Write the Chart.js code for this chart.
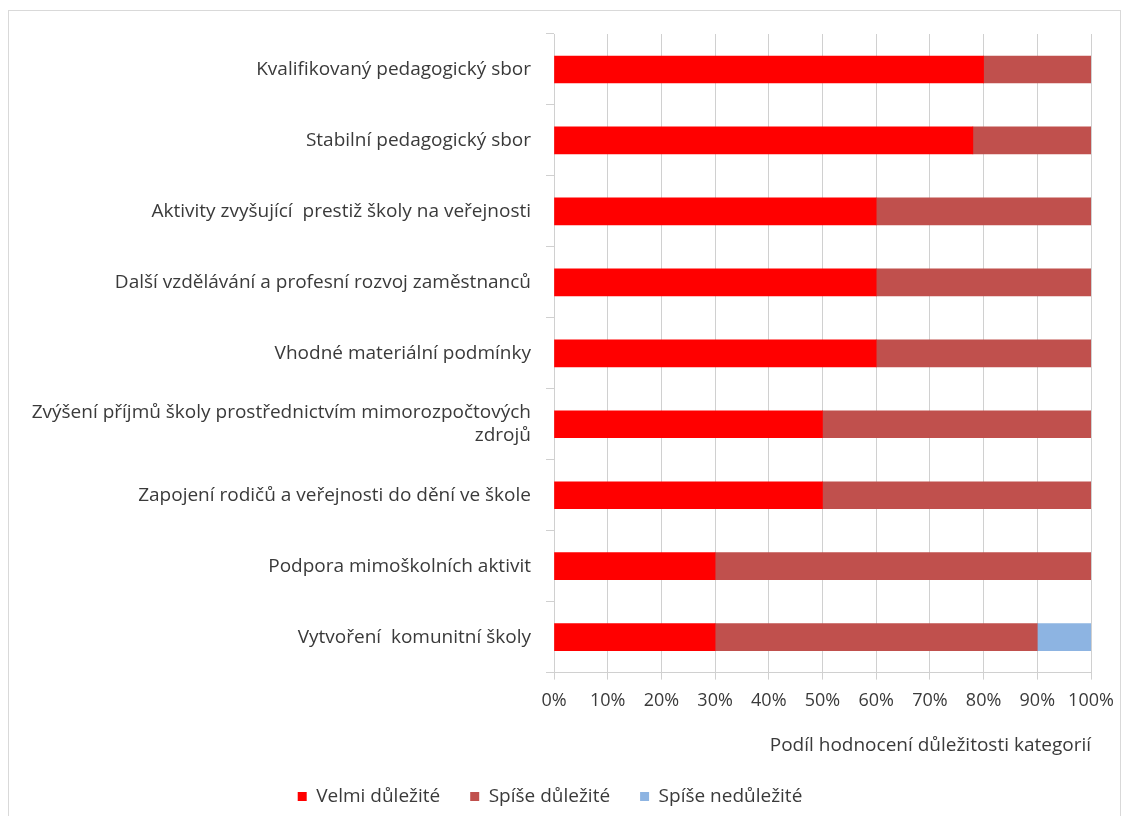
<!DOCTYPE html>
<html>
<head>
<meta charset="utf-8">
<script src="https://cdn.jsdelivr.net/npm/chart.js@4/dist/chart.umd.min.js"></script>
<style>
  body { margin: 0; background: #fff; }
  #box { position: absolute; left: 8px; top: 10px; width: 1111px; height: 805px; border: 1px solid #d9d9d9; border-bottom: none; }
  #box canvas { display: block; }
</style>
</head>
<body>
<div id="box"><canvas id="myChart" width="1111" height="805"></canvas></div>
<script>
const kategorie = [
    'Kvalifikovaný pedagogický sbor',
    'Stabilní pedagogický sbor',
    'Aktivity zvyšující  prestiž školy na veřejnosti',
    'Další vzdělávání a profesní rozvoj zaměstnanců',
    'Vhodné materiální podmínky',
    ['Zvýšení příjmů školy prostřednictvím mimorozpočtových', 'zdrojů'],
    'Zapojení rodičů a veřejnosti do dění ve škole',
    'Podpora mimoškolních aktivit',
    'Vytvoření  komunitní školy'
];
const velmiDulezite = [80, 78, 60, 60, 60, 50, 50, 30, 30];
const spiseDulezite = [20, 22, 40, 40, 40, 50, 50, 70, 60];
const spiseNedulezite = [0, 0, 0, 0, 0, 0, 0, 0, 10];
const osaX = [0, 10, 20, 30, 40, 50, 60, 70, 80, 90, 100];

const pismo = '"Open Sans", Lato, sans-serif';
const barvaTextu = '#3a3a3a';

const ctx = document.getElementById('myChart').getContext('2d');
const myChart = new Chart(ctx, {
    type: 'bar',
    data: {
        labels: kategorie,
        datasets: [
            { label: 'Velmi důležité', data: velmiDulezite, backgroundColor: '#ff0000' },
            { label: 'Spíše důležité', data: spiseDulezite, backgroundColor: '#c0504d' },
            { label: 'Spíše nedůležité', data: spiseNedulezite, backgroundColor: '#8db4e2' }
        ]
    },
    options: {
        indexAxis: 'y',
        responsive: false,
        animation: false,
        barThickness: 27,
        layout: { padding: { top: 23, right: 29, bottom: 0, left: 0 } },
        plugins: {
            tooltip: { enabled: false },
            legend: {
                position: 'bottom',
                labels: {
                    boxWidth: 9, boxHeight: 9,
                    font: { family: pismo, size: 19 },
                    color: barvaTextu,
                    padding: 30
                }
            }
        },
        scales: {
            x: {
                stacked: true,
                min: 0, max: 100,
                afterBuildTicks: (axis) => { axis.ticks = osaX.map(v => ({ value: v })); },
                afterFit: (axis) => { axis.paddingLeft = 0; axis.paddingRight = 0; },
                ticks: {
                    callback: (v) => v + '%',
                    font: { family: pismo, size: 18 },
                    color: barvaTextu,
                    padding: 10
                },
                grid: { color: '#d0d0d0', tickLength: 7 },
                border: { color: '#d0d0d0' },
                title: {
                    display: true,
                    text: 'Podíl hodnocení důležitosti kategorií',
                    align: 'end',
                    font: { family: pismo, size: 19 },
                    color: barvaTextu,
                    padding: { top: 13, bottom: 0 }
                }
            },
            y: {
                stacked: true,
                afterFit: (axis) => { axis.width = 545; axis.paddingTop = 0; axis.paddingBottom = 0; },
                ticks: {
                    font: { family: pismo, size: 19 },
                    color: barvaTextu,
                    padding: 15
                },
                grid: { drawOnChartArea: false, offset: true, tickLength: 8, color: '#d0d0d0' },
                border: { color: '#d0d0d0' }
            }
        }
    }
});
</script>
</body>
</html>
